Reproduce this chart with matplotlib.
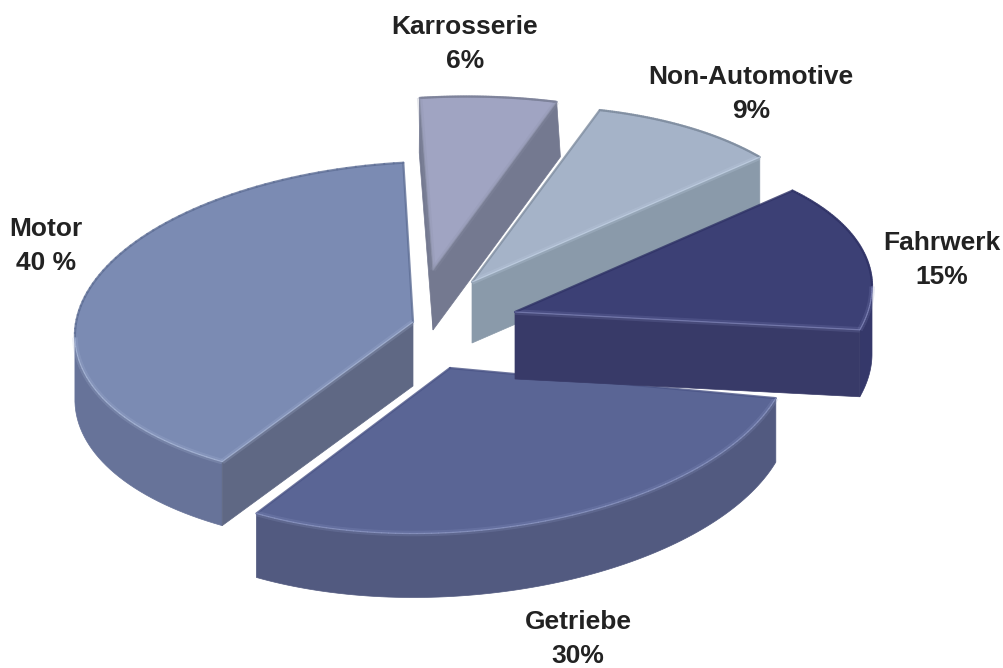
import numpy as np
import matplotlib
matplotlib.use('Agg')
import matplotlib.pyplot as plt

plt.rcParams['font.family'] = ['Liberation Sans', 'DejaVu Sans']

# slices, counter-clockwise from the top of the pie
names = ['Motor', 'Getriebe', 'Fahrwerk', 'Non-Automotive', 'Karrosserie']
shares = [40, 30, 15, 9, 6]
share_labels = ['40 %', '30%', '15%', '9%', '6%']

start_angle = 93

# exploded position and projection of each slice: cx, cy, a, b, c, d, depth, grow
geometry = [
    (413, 322, 338, 8, -10, -160, 64, 1.0),
    (450, 368, 340, 10, -13, -165, 64, 1.0),
    (515, 312, 357, 0, -25, -162, 67, 1.0),
    (472, 282, 359, 14, -19, -175, 61, 1.0),
    (433, 270, 370, 6, -13, -173, 60, 1.03),
]
top_colors = ['#7b8bb3', '#5a6595', '#3c4075', '#a5b3c8', '#a0a4c2']
rim_colors = ['#677399', '#525a80', '#35386a', '#8a9aaa', '#747990']
side_colors = ['#5f6884', '#525a80', '#383a68', '#8a9aaa', '#747990']
shine_colors = ['#a9b8d8', '#8c97c4', '#7f84b8', '#c3d2e6', '#8b90a8']
back_colors = ['#5f6f96', '#4a5486', '#2f3266', '#7f8da0', '#7c8199']
label_pos = [(46, 246), (578, 639), (942, 260), (751, 94), (465, 44)]
draw_order = [4, 3, 1, 2, 0]


def outline(i, a0, a1, scale=1.0, dy=0.0):
    cx, cy, a, b, c, d, depth, grow = geometry[i]
    t = np.radians(np.linspace(a0, a1, 90))
    x = cx + scale * (a * np.cos(t) + b * np.sin(t))
    y = cy + dy + scale * (c * np.cos(t) + d * np.sin(t))
    return np.r_[cx, x], np.r_[cy + dy, y]


fig = plt.figure(figsize=(10.04, 6.68), dpi=100)
ax = fig.add_axes([0, 0, 1, 1])
ax.set_xlim(0, 1004)
ax.set_ylim(668, 0)
ax.axis('off')

edges = np.cumsum([0] + shares) / sum(shares) * 360 + start_angle

for i in draw_order:
    a0, a1 = edges[i], edges[i + 1]
    depth, grow = geometry[i][6], geometry[i][7]
    z = draw_order.index(i) * 10
    x, y = outline(i, a0, a1)
    xb, yb = outline(i, a0, a1, grow, depth)
    xs = np.r_[x, x[0]]
    ys = np.r_[y, y[0]]
    xbs = np.r_[xb, xb[0]]
    ybs = np.r_[yb, yb[0]]
    n = len(xs) - 1
    # walls facing the viewer: the curved rim in one piece, then the flat cuts
    rim = [k for k in range(1, n - 1) if xs[k + 1] > xs[k]]
    if rim:
        k0, k1 = rim[0], rim[-1] + 1
        ax.fill(np.r_[xs[k0:k1 + 1], xbs[k0:k1 + 1][::-1]],
                np.r_[ys[k0:k1 + 1], ybs[k0:k1 + 1][::-1]],
                color=rim_colors[i], lw=0.5, zorder=z + 1)
    for k in [0, n - 1]:
        if xs[k + 1] > xs[k]:
            ax.fill([xs[k], xs[k + 1], xbs[k + 1], xbs[k]],
                    [ys[k], ys[k + 1], ybs[k + 1], ybs[k]],
                    color=side_colors[i], lw=0.5, zorder=z + 1)
    ax.fill(x, y, color=top_colors[i], lw=0, zorder=z + 2)
    # bevel on the top face
    front = np.diff(xs) > 0
    for k in range(n):
        if front[k]:
            ax.plot(xs[k:k + 2], ys[k:k + 2], color=shine_colors[i], lw=4,
                    alpha=0.22, solid_capstyle='butt', zorder=z + 3)
            ax.plot(xs[k:k + 2], ys[k:k + 2], color=shine_colors[i], lw=0.9,
                    alpha=0.7, solid_capstyle='round', zorder=z + 4)
        else:
            ax.plot(xs[k:k + 2], ys[k:k + 2], color=back_colors[i], lw=1.6,
                    alpha=0.8, solid_capstyle='round', zorder=z + 3)
    ax.text(*label_pos[i], names[i] + '\n' + share_labels[i], ha='center', va='center',
            fontsize=19, fontweight='bold', color='#222222', linespacing=1.55, zorder=100)

fig.savefig('out.png', dpi=100, facecolor='white')
